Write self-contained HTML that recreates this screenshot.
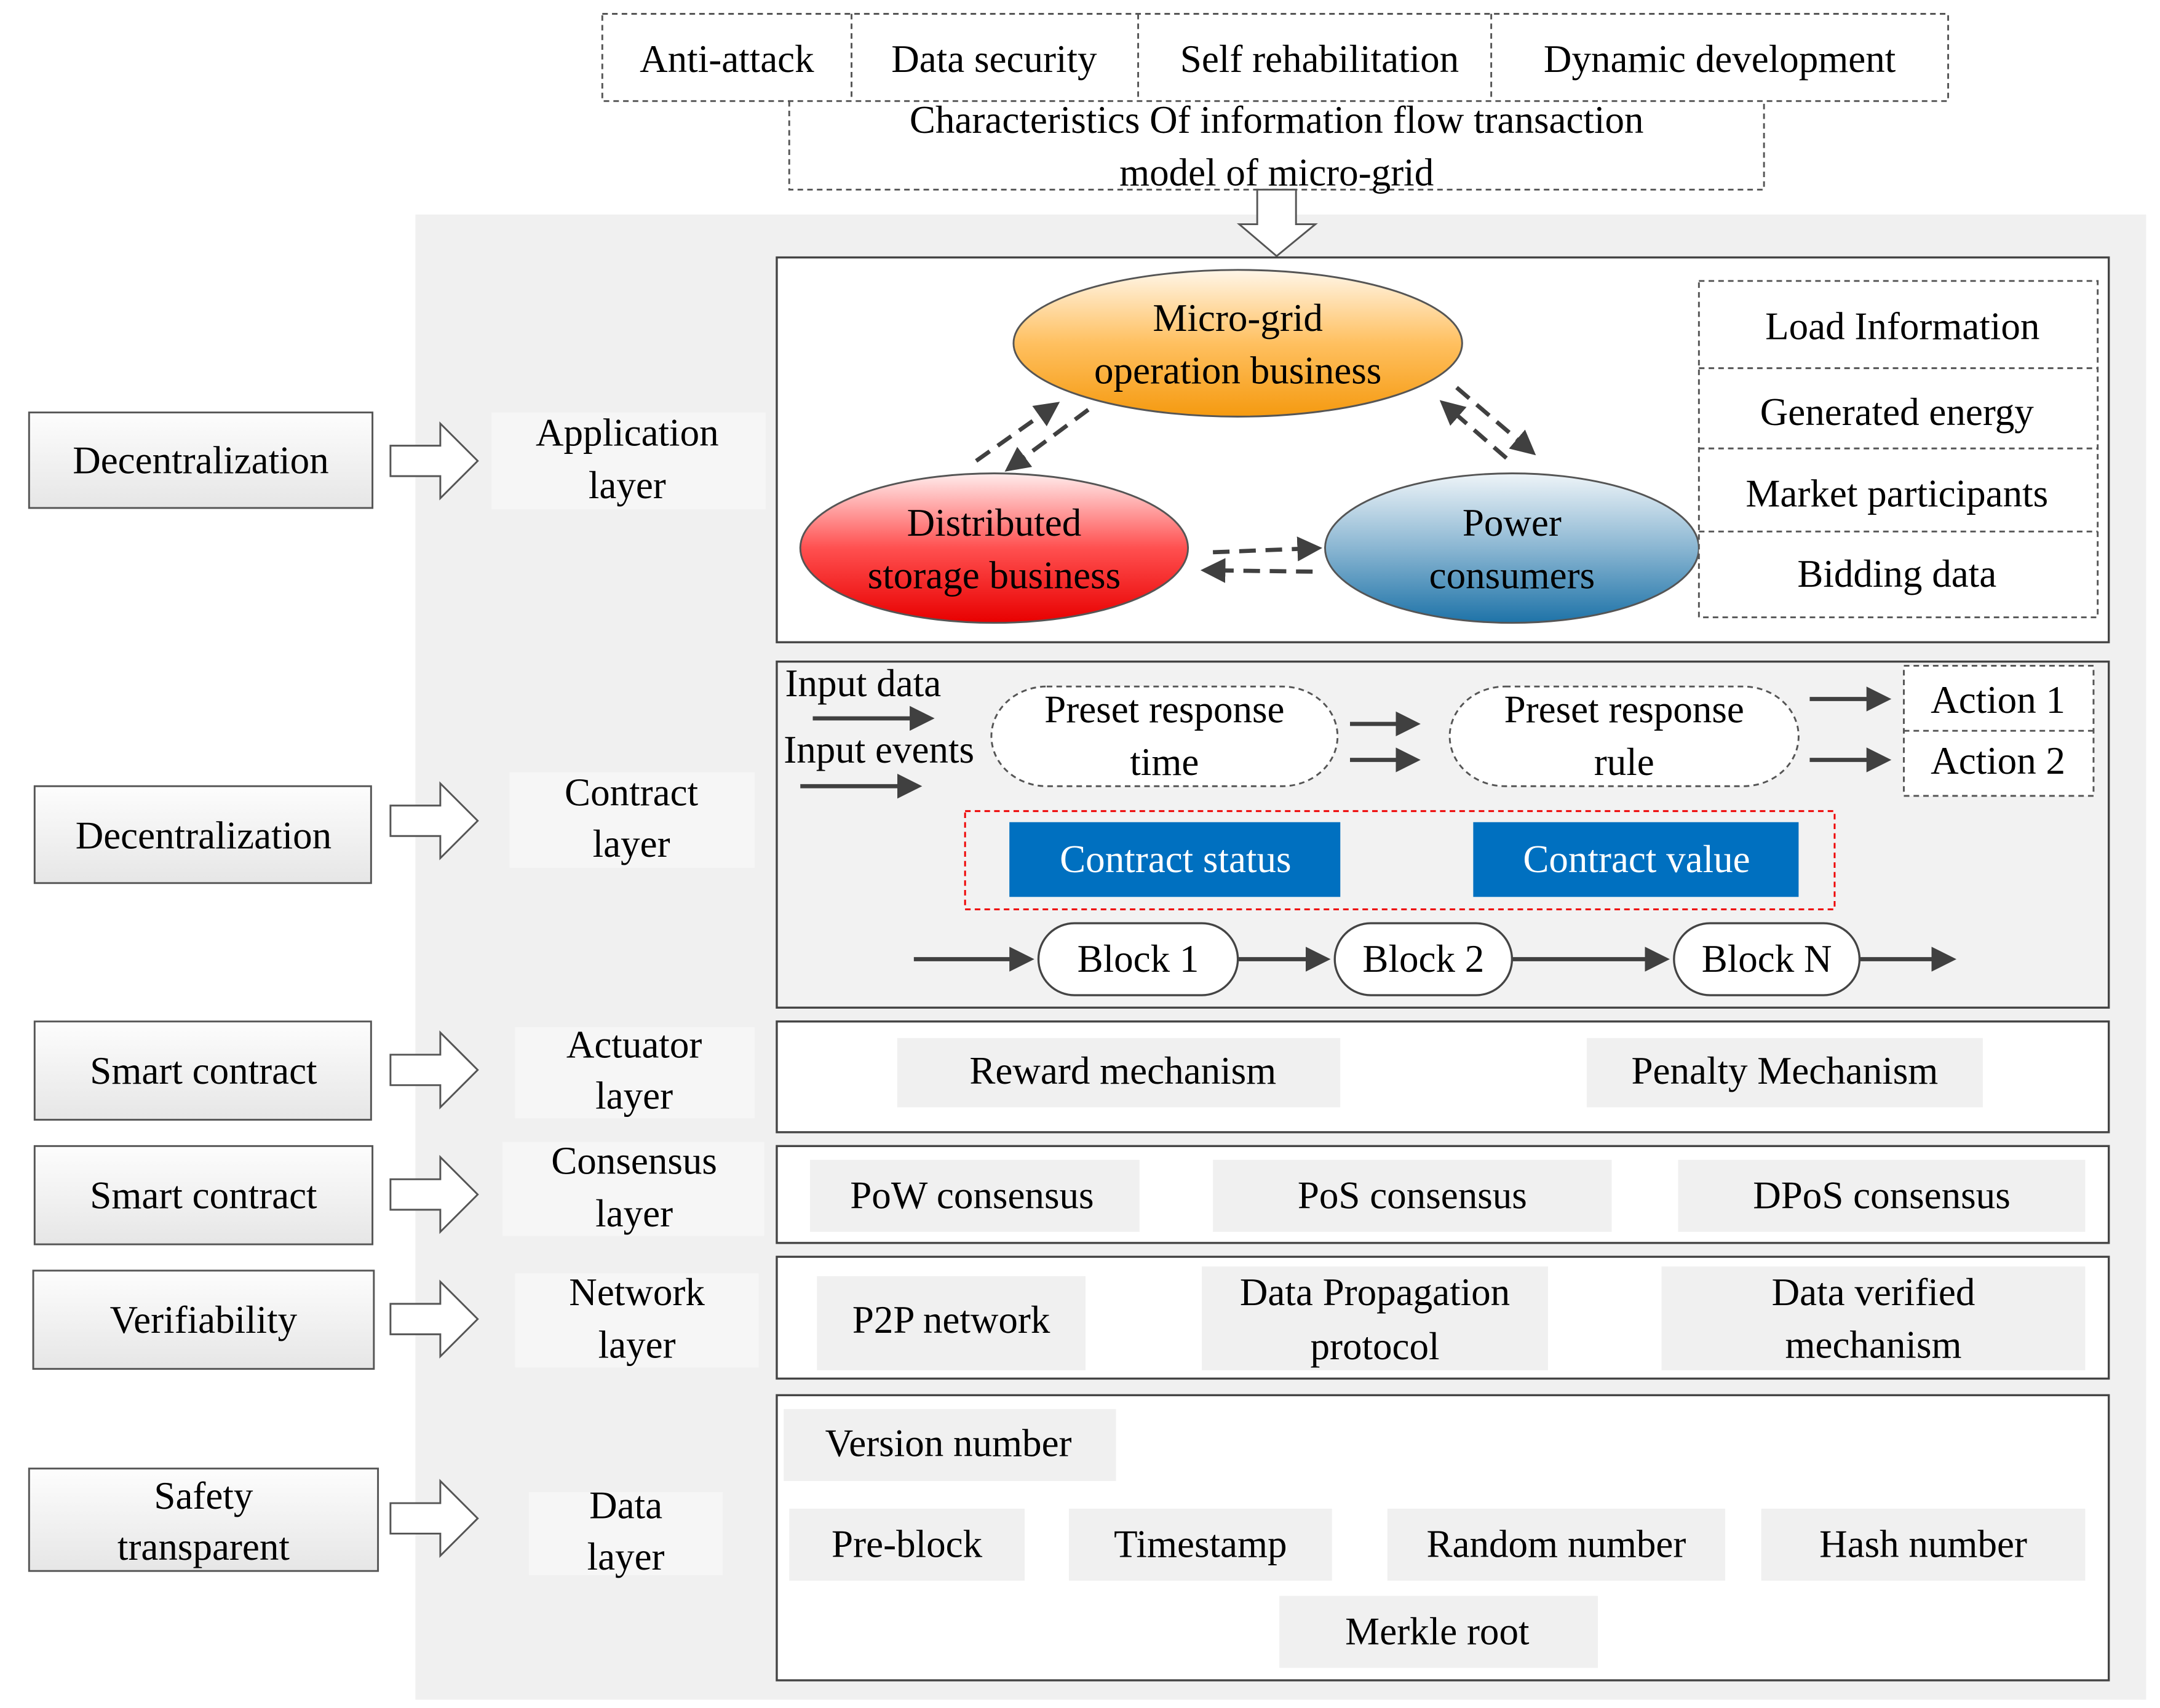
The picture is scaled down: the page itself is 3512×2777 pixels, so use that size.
<!DOCTYPE html>
<html><head><meta charset="utf-8"><style>html,body{margin:0;padding:0;background:#fff}svg{display:block}svg text{font-family:"Liberation Serif",serif}</style></head>
<body>
<svg width="3512" height="2777" viewBox="0 0 1560 1234" preserveAspectRatio="none" xmlns="http://www.w3.org/2000/svg" style="font-family:'Liberation Serif',serif" font-size="28" fill="#000">
<defs>
<linearGradient id="gb" x1="0" y1="0" x2="0" y2="1"><stop offset="0" stop-color="#fdfdfd"/><stop offset="1" stop-color="#e6e6e6"/></linearGradient>
<linearGradient id="go" x1="0" y1="0" x2="0" y2="1"><stop offset="0" stop-color="#fff6e8"/><stop offset="0.5" stop-color="#ffc060"/><stop offset="1" stop-color="#f59a10"/></linearGradient>
<linearGradient id="gr" x1="0" y1="0" x2="0" y2="1"><stop offset="0" stop-color="#ffecec"/><stop offset="0.5" stop-color="#ff5050"/><stop offset="1" stop-color="#e80000"/></linearGradient>
<linearGradient id="gbl" x1="0" y1="0" x2="0" y2="1"><stop offset="0" stop-color="#eef4f8"/><stop offset="0.5" stop-color="#8ab6d2"/><stop offset="1" stop-color="#1e73a8"/></linearGradient>
<marker id="ah" markerWidth="6" markerHeight="6" refX="5" refY="3" orient="auto" markerUnits="strokeWidth"><path d="M0,0 L6,3 L0,6 z" fill="#404040"/></marker>
</defs>

<g stroke="#555" stroke-width="1.3" stroke-dasharray="4,3" fill="#fff">
<rect x="435" y="10" width="972" height="63"/>
<line x1="615" y1="10" x2="615" y2="73"/><line x1="822" y1="10" x2="822" y2="73"/><line x1="1077" y1="10" x2="1077" y2="73"/>
<path d="M570,73 V137 H1274 V73" fill="none"/>
</g>
<g text-anchor="middle">
<text x="525" y="52">Anti-attack</text><text x="718" y="52">Data security</text><text x="953" y="52">Self rehabilitation</text><text x="1242" y="52">Dynamic development</text>
<text x="922" y="96">Characteristics Of  information flow transaction</text>
<text x="922" y="134">model of micro-grid</text>
</g>

<rect x="300" y="155" width="1250" height="1073" fill="#f0f0f0"/>
<path d="M908,137 H936 V162 H950 L922,185 L895,162 H908 Z" fill="#fff" stroke="#555" stroke-width="1.3"/>

<g stroke="#555" stroke-width="1.3" fill="url(#gb)">
<rect x="21" y="298" width="248" height="69"/>
<rect x="25" y="568" width="243" height="70"/>
<rect x="25" y="738" width="243" height="71"/>
<rect x="25" y="828" width="244" height="71"/>
<rect x="24" y="918" width="246" height="71"/>
<rect x="21" y="1061" width="252" height="74"/>
</g>
<g text-anchor="middle">
<text x="145" y="342">Decentralization</text>
<text x="147" y="613">Decentralization</text>
<text x="147" y="783">Smart contract</text>
<text x="147" y="873">Smart contract</text>
<text x="147" y="963">Verifiability</text>
<text x="147" y="1090">Safety</text><text x="147" y="1127">transparent</text>
</g>
<g fill="#fff" stroke="#555" stroke-width="1.3">
<path d="M282,322 H318 V306 L345,333 L318,360 V344 H282 Z"/>
<path d="M282,582 H318 V566 L345,593 L318,620 V604 H282 Z"/>
<path d="M282,762 H318 V746 L345,773 L318,800 V784 H282 Z"/>
<path d="M282,852 H318 V836 L345,863 L318,890 V874 H282 Z"/>
<path d="M282,942 H318 V926 L345,953 L318,980 V964 H282 Z"/>
<path d="M282,1086 H318 V1070 L345,1097 L318,1124 V1108 H282 Z"/>
</g>
<g fill="#f6f6f6">
<rect x="355" y="298" width="198" height="70"/>
<rect x="368" y="558" width="177" height="69"/>
<rect x="372" y="742" width="173" height="66"/>
<rect x="363" y="825" width="189" height="68"/>
<rect x="372" y="920" width="176" height="68"/>
<rect x="382" y="1078" width="140" height="60"/>
</g>
<g text-anchor="middle">
<text x="453" y="322">Application</text><text x="453" y="360">layer</text>
<text x="456" y="582">Contract</text><text x="456" y="619">layer</text>
<text x="458" y="764">Actuator</text><text x="458" y="801">layer</text>
<text x="458" y="848">Consensus</text><text x="458" y="886">layer</text>
<text x="460" y="943">Network</text><text x="460" y="981">layer</text>
<text x="452" y="1097">Data</text><text x="452" y="1134">layer</text>
</g>

<g stroke="#444" stroke-width="1.5">
<rect x="561" y="186" width="962" height="278" fill="#fff"/>
<rect x="561" y="478" width="962" height="250" fill="#f2f2f2"/>
<rect x="561" y="738" width="962" height="80" fill="#fff"/>
<rect x="561" y="828" width="962" height="70" fill="#fff"/>
<rect x="561" y="908" width="962" height="88" fill="#fff"/>
<rect x="561" y="1008" width="962" height="206" fill="#fff"/>
</g>

<ellipse cx="894" cy="248" rx="162" ry="53" fill="url(#go)" stroke="#555" stroke-width="1.3"/>
<ellipse cx="718" cy="396" rx="140" ry="54" fill="url(#gr)" stroke="#555" stroke-width="1.3"/>
<ellipse cx="1092" cy="396" rx="135" ry="54" fill="url(#gbl)" stroke="#555" stroke-width="1.3"/>
<g text-anchor="middle">
<text x="894" y="239">Micro-grid</text><text x="894" y="277">operation business</text>
<text x="718" y="387">Distributed</text><text x="718" y="425">storage business</text>
<text x="1092" y="387">Power</text><text x="1092" y="425">consumers</text>
</g>
<g stroke="#404040" stroke-width="3" stroke-dasharray="12,7" fill="none" marker-end="url(#ah)">
<line x1="705" y1="333" x2="763" y2="292"/>
<line x1="786" y1="296" x2="728" y2="339"/>
<line x1="1052" y1="280" x2="1107" y2="327"/>
<line x1="1088" y1="331" x2="1042" y2="291"/>
<line x1="876" y1="399" x2="952" y2="396"/>
<line x1="948" y1="413" x2="870" y2="412"/>
</g>
<g stroke="#555" stroke-width="1.3" stroke-dasharray="4,3" fill="#fff">
<rect x="1227" y="203" width="288" height="243"/>
<line x1="1227" y1="266" x2="1515" y2="266"/><line x1="1227" y1="324" x2="1515" y2="324"/><line x1="1227" y1="384" x2="1515" y2="384"/>
</g>
<g text-anchor="middle">
<text x="1374" y="245">Load Information</text>
<text x="1370" y="307">Generated energy</text>
<text x="1370" y="366">Market participants</text>
<text x="1370" y="424">Bidding data</text>
</g>

<text x="567" y="503">Input data</text>
<text x="566" y="551">Input events</text>
<g stroke="#404040" stroke-width="3" fill="none" marker-end="url(#ah)">
<line x1="587" y1="519" x2="672" y2="519"/>
<line x1="578" y1="568" x2="663" y2="568"/>
<line x1="975" y1="523" x2="1023" y2="523"/>
<line x1="975" y1="549" x2="1023" y2="549"/>
<line x1="1307" y1="505" x2="1363" y2="505"/>
<line x1="1307" y1="549" x2="1363" y2="549"/>
<line x1="660" y1="693" x2="744" y2="693"/>
<line x1="894" y1="693" x2="958" y2="693"/>
<line x1="1092" y1="693" x2="1203" y2="693"/>
<line x1="1343" y1="693" x2="1410" y2="693"/>
</g>
<g stroke="#555" stroke-width="1.3" stroke-dasharray="4,3" fill="#fff">
<rect x="716" y="496" width="250" height="72" rx="40"/>
<rect x="1047" y="496" width="252" height="72" rx="40"/>
<rect x="1375" y="481" width="137" height="94"/>
<line x1="1375" y1="528" x2="1512" y2="528"/>
</g>
<g text-anchor="middle">
<text x="841" y="522">Preset response</text><text x="841" y="560">time</text>
<text x="1173" y="522">Preset response</text><text x="1173" y="560">rule</text>
<text x="1443" y="515">Action 1</text><text x="1443" y="559">Action 2</text>
</g>
<rect x="697" y="586" width="628" height="71" fill="none" stroke="#e00" stroke-width="1.3" stroke-dasharray="4,3"/>
<rect x="729" y="594" width="239" height="54" fill="#0070c0"/>
<rect x="1064" y="594" width="235" height="54" fill="#0070c0"/>
<g text-anchor="middle" fill="#fff">
<text x="849" y="630">Contract status</text><text x="1182" y="630">Contract value</text>
</g>
<g stroke="#444" stroke-width="1.5" fill="#fff">
<rect x="750" y="667" width="144" height="52" rx="26"/>
<rect x="964" y="667" width="128" height="52" rx="26"/>
<rect x="1209" y="667" width="134" height="52" rx="26"/>
</g>
<g text-anchor="middle">
<text x="822" y="702">Block 1</text><text x="1028" y="702">Block 2</text><text x="1276" y="702">Block N</text>
</g>

<g fill="#f0f0f0">
<rect x="648" y="750" width="320" height="50"/><rect x="1146" y="750" width="286" height="50"/>
<rect x="585" y="838" width="238" height="52"/><rect x="876" y="838" width="288" height="52"/><rect x="1212" y="838" width="294" height="52"/>
<rect x="590" y="922" width="194" height="68"/><rect x="868" y="915" width="250" height="75"/><rect x="1200" y="915" width="306" height="75"/>
<rect x="566" y="1018" width="240" height="52"/>
<rect x="570" y="1090" width="170" height="52"/><rect x="772" y="1090" width="190" height="52"/><rect x="1002" y="1090" width="244" height="52"/><rect x="1272" y="1090" width="234" height="52"/>
<rect x="924" y="1153" width="230" height="52"/>
</g>
<g text-anchor="middle">
<text x="811" y="783">Reward mechanism</text><text x="1289" y="783">Penalty Mechanism</text>
<text x="702" y="873">PoW consensus</text><text x="1020" y="873">PoS consensus</text><text x="1359" y="873">DPoS consensus</text>
<text x="687" y="963">P2P network</text>
<text x="993" y="943">Data Propagation</text><text x="993" y="982">protocol</text>
<text x="1353" y="943">Data verified</text><text x="1353" y="981">mechanism</text>
<text x="685" y="1052">Version number</text>
<text x="655" y="1125">Pre-block</text><text x="867" y="1125">Timestamp</text><text x="1124" y="1125">Random number</text><text x="1389" y="1125">Hash number</text>
<text x="1038" y="1188">Merkle root</text>
</g>
</svg>
</body></html>
